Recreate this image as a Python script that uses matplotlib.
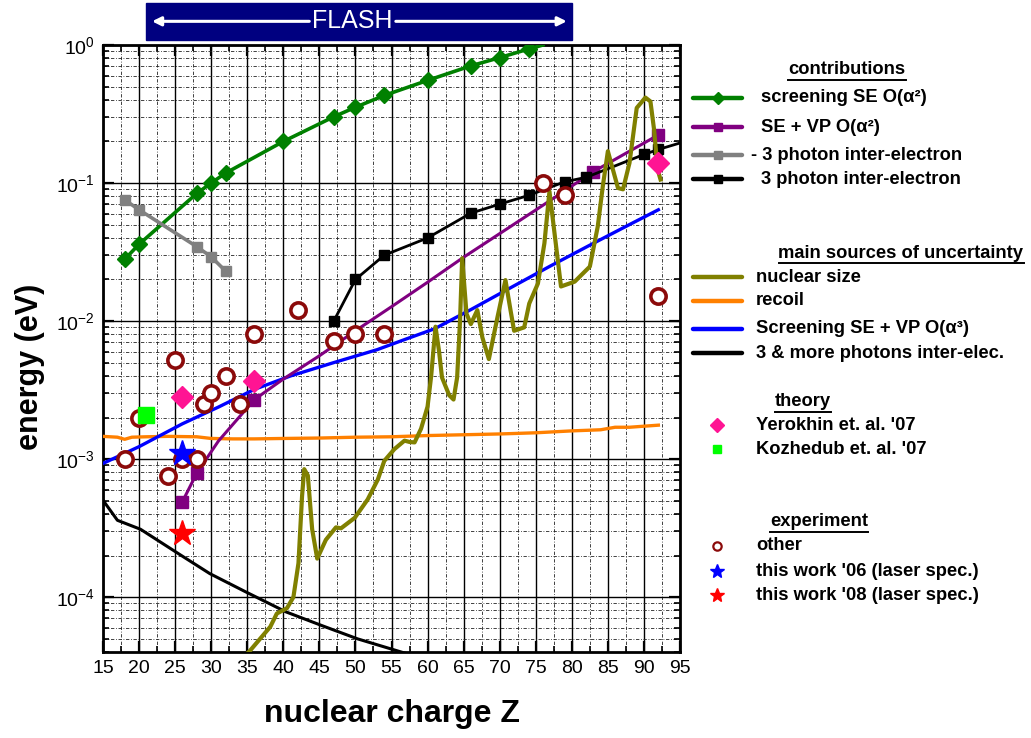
import matplotlib
matplotlib.use("Agg")
import matplotlib.pyplot as plt
import matplotlib.transforms as mtransforms
from matplotlib.lines import Line2D
from matplotlib.patches import Rectangle
from matplotlib.ticker import MultipleLocator, LogLocator, FixedLocator, FixedFormatter, NullFormatter

plt.rcParams['font.family'] = ['Liberation Sans', 'DejaVu Sans']
plt.rcParams['mathtext.fontset'] = 'custom'
plt.rcParams['mathtext.rm'] = 'Liberation Sans'
plt.rcParams['mathtext.default'] = 'rm'

# --- contributions ---
z_scr = [18, 20, 28, 30, 32, 40, 47, 50, 54, 60, 66, 70, 74, 76]
e_scr = [0.028, 0.036, 0.084, 0.100, 0.118, 0.200, 0.302, 0.354, 0.431, 0.554, 0.706, 0.81, 0.935, 1.0]
scr_marks = list(range(13))

z_sevp = [26, 28, 31, 36, 40, 45, 50, 55, 60, 65, 70, 76, 83, 88, 92]
e_sevp = [0.00049, 0.00079, 0.00135, 0.0027, 0.0038, 0.0056, 0.0085, 0.0127, 0.0191, 0.029, 0.043, 0.069, 0.121, 0.17, 0.223]
sevp_marks = [0, 1, 3, 12, 14]

z_m3ph = [18, 20, 28, 30, 32]
e_m3ph = [0.0756, 0.064, 0.0346, 0.0292, 0.023]

z_3ph = [47, 50, 54, 60, 66, 70, 74, 79, 82, 90, 92, 95]
e_3ph = [0.0100, 0.020, 0.030, 0.040, 0.0605, 0.0703, 0.0813, 0.102, 0.110, 0.161, 0.175, 0.195]
ph3_marks = list(range(11))

# --- main sources of uncertainty ---
z_ns = [35.0, 35.4, 36.8, 38.2, 39.1, 40.5, 41.4, 42.1, 42.6, 42.9,
        43.4, 44.0, 44.7, 45.9, 47.3, 48.0, 49.9, 51.7, 53.1, 54.0,
        55.4, 56.8, 57.5, 58.2, 59.1, 60.0, 60.5, 61.1, 61.6, 62.0,
        63.0, 63.6, 64.1, 64.5, 64.8, 65.4, 66.0, 66.9, 67.6, 68.5,
        69.7, 70.8, 71.5, 72.0, 73.4, 74.1, 75.3, 76.2, 76.9, 77.6,
        78.5, 80.4, 82.5, 83.6, 84.3, 85.0, 85.7, 86.4, 87.1, 88.0,
        89.0, 90.2, 90.9, 91.4, 91.9, 92.3]
e_ns = [3.9e-5, 4.1e-5, 5.0e-5, 6.1e-5, 7.6e-5, 8.3e-5, 1.0e-4, 1.76e-4, 5.4e-4, 8.45e-4,
        7.6e-4, 3.1e-4, 1.9e-4, 2.6e-4, 3.2e-4, 3.15e-4, 3.75e-4, 5.1e-4, 7.1e-4, 9.7e-4,
        1.18e-3, 1.36e-3, 1.33e-3, 1.32e-3, 1.66e-3, 2.4e-3, 4.0e-3, 9.1e-3, 6.0e-3, 3.9e-3,
        2.9e-3, 2.7e-3, 3.9e-3, 1.0e-2, 2.85e-2, 1.13e-2, 9.5e-3, 1.2e-2, 7.6e-3, 5.3e-3,
        1.07e-2, 1.98e-2, 1.2e-2, 8.5e-3, 9.0e-3, 1.34e-2, 1.87e-2, 3.66e-2, 8.7e-2, 4.34e-2,
        1.78e-2, 1.93e-2, 2.48e-2, 4.85e-2, 9.5e-2, 0.17, 0.125, 0.092, 0.090, 0.14,
        0.35, 0.416, 0.39, 0.245, 0.125, 0.106]

z_rec = [15, 17, 18, 19, 21, 24, 28, 30, 33, 36, 40, 45, 50, 55, 60, 65, 70, 75, 80, 84, 86, 88, 90, 92]
e_rec = [0.00146, 0.00144, 0.00139, 0.00144, 0.00145, 0.00146, 0.00145, 0.00141, 0.00140, 0.00140,
         0.00141, 0.00142, 0.00144, 0.00145, 0.00148, 0.00150, 0.00152, 0.00155, 0.00160, 0.00163,
         0.00170, 0.00170, 0.00173, 0.00176]

z_unc = [15, 20, 26, 31, 36, 41, 47, 53, 57, 61, 66, 72, 77, 83, 88, 92]
e_unc = [0.00093, 0.00123, 0.0018, 0.00238, 0.0032, 0.0040, 0.0050, 0.0062, 0.0074, 0.0088,
         0.0121, 0.018, 0.025, 0.0366, 0.050, 0.064]

z_more = [15, 17, 20.2, 25.8, 29.8, 34.8, 40.4, 45.4, 50.3, 55, 60]
e_more = [0.000503, 0.00036, 0.00031, 0.000201, 0.000148, 0.000109, 7.8e-5, 6.2e-5, 4.98e-5, 4.2e-5, 3.5e-5]

# --- theory ---
z_yer = [26, 36, 92]
e_yer = [0.0028, 0.0037, 0.14]
z_koz = [21]
e_koz = [0.0021]

# --- experiment ---
z_oth = [18, 20, 24, 25, 26, 28, 29, 30, 32, 34, 36, 42, 47, 50, 54, 76, 79, 92]
e_oth = [0.0010, 0.0020, 0.00075, 0.0052, 0.0010, 0.0010, 0.0025, 0.0030, 0.0040, 0.0025,
         0.0080, 0.012, 0.0072, 0.0080, 0.0081, 0.100, 0.082, 0.0153]
z_w06 = [26]
e_w06 = [0.0011]
z_w08 = [26]
e_w08 = [0.00029]

W, H = 1031, 738
fig = plt.figure(figsize=(W / 100, H / 100), dpi=100)
ax = fig.add_axes([103 / W, 1 - 652 / H, 577 / W, 607 / H])

ax.plot(z_scr, e_scr, color='#008000', lw=2.6, marker='D', ms=8, markevery=scr_marks, zorder=4)
ax.plot(z_m3ph, e_m3ph, color='#808080', lw=2.6, marker='s', ms=7, zorder=4)
ax.plot(z_more, e_more, color='black', lw=2.2, zorder=3)
ax.plot(z_rec, e_rec, color='#FF8000', lw=2.4, zorder=3)
ax.plot(z_unc, e_unc, color='#0000FF', lw=2.4, zorder=3)
ax.plot(z_sevp, e_sevp, color='#800080', lw=2.2, marker='s', ms=8, markevery=sevp_marks, zorder=4)
ax.plot(z_3ph, e_3ph, color='black', lw=2.0, marker='s', ms=7, markevery=ph3_marks, zorder=4)
ax.plot(z_ns, e_ns, color='#808000', lw=3.0, solid_joinstyle='round', zorder=5)

ax.plot(z_oth, e_oth, ls='none', marker='o', ms=11, mfc='white', mec='#8B0A0A', mew=2.6, zorder=6)
ax.plot(z_koz, e_koz, ls='none', marker='s', ms=11, color='#00FF00', zorder=6)
ax.plot(z_yer, e_yer, ls='none', marker='D', ms=11, color='#FF1493', zorder=7)
ax.plot(z_w06, e_w06, ls='none', marker='*', ms=19, color='#0000FF', zorder=7)
ax.plot(z_w08, e_w08, ls='none', marker='*', ms=19, color='#FF0000', zorder=7)

ax.set_yscale('log')
ax.set_xlim(15, 95)
ax.set_ylim(4e-5, 1)
ax.xaxis.set_major_locator(MultipleLocator(5))
ax.xaxis.set_minor_locator(MultipleLocator(2.5))
ax.yaxis.set_major_locator(FixedLocator([1e-4, 1e-3, 1e-2, 1e-1, 1]))
ax.yaxis.set_major_formatter(FixedFormatter(['10$^{-4}$', '10$^{-3}$', '10$^{-2}$', '10$^{-1}$', '10$^{0}$']))
ax.yaxis.set_minor_locator(LogLocator(base=10, subs=range(2, 10), numticks=20))
ax.yaxis.set_minor_formatter(NullFormatter())

ax.set_axisbelow(True)
ax.grid(which='major', color='black', lw=1.0, ls='-')
ax.grid(which='minor', color='#222222', lw=0.6, ls=(0, (4, 2, 1, 2)))
ax.tick_params(which='both', direction='in', top=True, right=True)
ax.tick_params(which='major', length=8, width=1.6, labelsize=14, pad=6)
ax.tick_params(which='minor', length=4, width=1.2)
for sp in ax.spines.values():
    sp.set_linewidth(2.0)

ax.set_xlabel('nuclear charge Z', fontsize=23, fontweight='bold')
ax.set_ylabel('energy (eV)', fontsize=22, fontweight='bold')
ax.xaxis.set_label_coords(0.5, -0.078)
ax.yaxis.set_label_coords(-0.100, 0.47)

# FLASH band above the axes
trans = mtransforms.blended_transform_factory(ax.transData, ax.transAxes)
ax.add_patch(Rectangle((21.0, 1.008), 59.0, 0.062, transform=trans, color='#000080',
                       clip_on=False, zorder=10))
ax.text(49.6, 1.039, 'FLASH', transform=trans, color='white', fontsize=18,
        ha='center', va='center', zorder=11, clip_on=False)
for x0, x1 in [(43.6, 21.8), (55.6, 79.3)]:
    ax.annotate('', xy=(x1, 1.039), xytext=(x0, 1.039), xycoords=trans, textcoords=trans,
                arrowprops=dict(arrowstyle='-|>', color='white', lw=2.2, mutation_scale=13,
                                shrinkA=0, shrinkB=0),
                annotation_clip=False, zorder=11)


def fx(x):
    return x / W


def fy(y):
    return 1 - y / H


def handle(y, color, marker=None, ms=7, lw=3.2):
    fig.add_artist(Line2D([fx(693), fx(742)], [fy(y), fy(y)], transform=fig.transFigure,
                          color=color, lw=lw, solid_capstyle='round'))
    if marker:
        fig.add_artist(Line2D([fx(718)], [fy(y)], transform=fig.transFigure, color=color,
                              marker=marker, ms=ms, ls='none'))


def point(y, **kw):
    fig.add_artist(Line2D([fx(717)], [fy(y)], transform=fig.transFigure, ls='none', **kw))


LEG_FS = 13.2


def entry(x, y, s):
    fig.text(fx(x), fy(y), s, fontsize=LEG_FS, fontweight='bold', va='center', ha='left')


headings = []
for x, y, s in [(847, 70, 'contributions'), (901, 253, 'main sources of uncertainty'),
                (803, 402, 'theory'), (819, 522, 'experiment')]:
    headings.append(fig.text(fx(x), fy(y), s, fontsize=LEG_FS, fontweight='bold',
                             va='center', ha='center'))

handle(98, '#008000', 'D', 6)
entry(761, 98, 'screening SE O(α²)')
handle(127, '#800080', 's', 6)
entry(761, 127, 'SE + VP O(α²)')
handle(155, '#808080', 's', 6)
entry(751, 155, '- 3 photon inter-electron')
handle(179, 'black', 's', 6)
entry(761, 179, '3 photon inter-electron')

handle(277, '#808000')
entry(756, 277, 'nuclear size')
handle(301, '#FF8000')
entry(756, 301, 'recoil')
handle(329, '#0000FF')
entry(756, 329, 'Screening SE + VP O(α³)')
handle(353, 'black')
entry(756, 353, '3 & more photons inter-elec.')

point(425, marker='D', ms=7, color='#FF1493')
entry(756, 425, "Yerokhin et. al. '07")
point(449, marker='s', ms=6, color='#00FF00')
entry(756, 449, "Kozhedub et. al. '07")

point(546, marker='o', ms=6, mfc='white', mec='#8B0A0A', mew=1.6)
entry(756, 546, 'other')
point(571, marker='*', ms=10, color='#0000FF')
entry(756, 571, "this work '06 (laser spec.)")
point(595, marker='*', ms=10, color='#FF0000')
entry(756, 595, "this work '08 (laser spec.)")

# underline the group headings
fig.canvas.draw()
renderer = fig.canvas.get_renderer()
for t in headings:
    bb = t.get_window_extent(renderer)
    fig.add_artist(Line2D([bb.x0 / fig.bbox.width, bb.x1 / fig.bbox.width],
                          [(bb.y0 - 1.5) / fig.bbox.height] * 2,
                          transform=fig.transFigure, color='black', lw=1.4))

fig.savefig('out.png', dpi=100)
